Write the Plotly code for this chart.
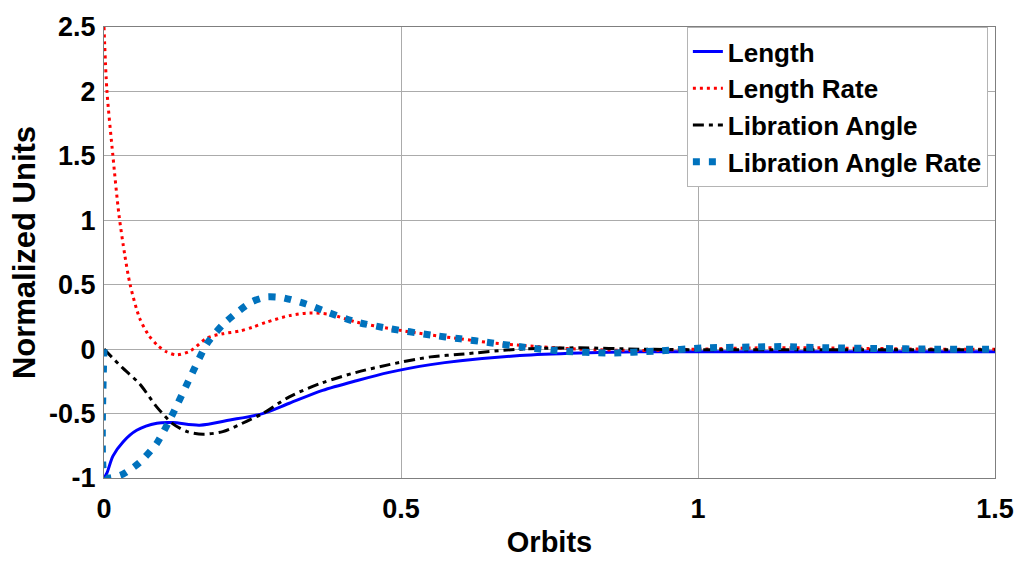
import plotly.graph_objects as go

# Orbit time samples and normalized state responses
len_x = [0, 0.005, 0.015, 0.032, 0.055, 0.089, 0.116, 0.161, 0.212, 0.267, 0.312,
         0.368, 0.425, 0.48, 0.55, 0.6, 0.7, 0.8, 0.9, 1.0, 1.25, 1.5]
len_y = [-1, -0.96, -0.83, -0.72, -0.63, -0.575, -0.57, -0.59, -0.55, -0.5, -0.42,
         -0.32, -0.245, -0.18, -0.12, -0.09, -0.05, -0.03, -0.02, -0.02, -0.02, -0.02]

rate_x = [0, 0.005, 0.015, 0.025, 0.035, 0.044, 0.06, 0.075, 0.09, 0.105, 0.122,
          0.145, 0.173, 0.2, 0.228, 0.25, 0.274, 0.312, 0.346, 0.38, 0.425, 0.48,
          0.55, 0.6, 0.65, 0.7, 0.8, 0.9, 1.0, 1.1, 1.2, 1.3, 1.4, 1.5]
rate_y = [2.5, 2.0, 1.5, 1.05, 0.73, 0.5, 0.24, 0.11, 0.03, -0.02, -0.045,
          -0.015, 0.085, 0.12, 0.14, 0.17, 0.21, 0.26, 0.28, 0.27, 0.21, 0.16,
          0.11, 0.08, 0.05, 0.03, 0.0, -0.01, 0.0, 0.01, 0.01, 0.005, 0.0, 0.0]

lib_x = [0, 0.03, 0.06, 0.089, 0.116, 0.14, 0.167, 0.2, 0.24, 0.267, 0.312, 0.368,
         0.425, 0.48, 0.55, 0.6, 0.7, 0.8, 0.9, 1.0, 1.25, 1.5]
lib_y = [0, -0.14, -0.27, -0.45, -0.58, -0.64, -0.66, -0.64, -0.56, -0.5, -0.37, -0.26,
         -0.18, -0.12, -0.06, -0.04, 0.0, 0.01, 0.0, -0.005, -0.005, -0.005]

librate_x = [0, 0.001, 0.01, 0.032, 0.06, 0.089, 0.116, 0.145, 0.173, 0.2, 0.228,
             0.25, 0.274, 0.3, 0.34, 0.38, 0.425, 0.48, 0.55, 0.6, 0.65, 0.716,
             0.77, 0.85, 0.93, 1.01, 1.09, 1.14, 1.22, 1.30, 1.40, 1.5]
librate_y = [0, -0.99, -1.0, -0.97, -0.88, -0.73, -0.5, -0.22, 0.04, 0.19, 0.3,
             0.37, 0.405, 0.4, 0.35, 0.28, 0.21, 0.16, 0.11, 0.08, 0.05, 0.01,
             -0.015, -0.03, -0.015, 0.01, 0.016, 0.02, 0.01, 0.005, 0.0, 0.0]

x_ticks = [0, 0.5, 1, 1.5]
x_tick_text = ["0", "0.5", "1", "1.5"]
y_ticks = [-1, -0.5, 0, 0.5, 1, 1.5, 2, 2.5]
y_tick_text = ["-1", "-0.5", "0", "0.5", "1", "1.5", "2", "2.5"]

FONT = "Liberation Sans, Arial, sans-serif"

fig = go.Figure()
fig.add_trace(go.Scatter(x=len_x, y=len_y, name="Length", mode="lines",
                         line=dict(color="#0000FF", width=3, shape="spline", smoothing=0.8)))
fig.add_trace(go.Scatter(x=rate_x, y=rate_y, name="Length Rate", mode="lines",
                         line=dict(color="#FF0000", width=3, dash="3px,4px",
                                   shape="spline", smoothing=0.8)))
fig.add_trace(go.Scatter(x=lib_x, y=lib_y, name="Libration Angle", mode="lines",
                         line=dict(color="#000000", width=3, dash="11px,5px,4px,5px",
                                   shape="spline", smoothing=0.8)))
fig.add_trace(go.Scatter(x=librate_x, y=librate_y, name="Libration Angle Rate", mode="lines",
                         line=dict(color="#0072BD", width=7, dash="7px,9px",
                                   shape="spline", smoothing=0.6)))

axis_common = dict(
    showgrid=True, gridcolor="#ababab", gridwidth=1,
    showline=True, linecolor="#7f7f7f", linewidth=1, mirror=True,
    zeroline=False, ticks="", tickfont=dict(family=FONT, size=27, color="#000000", weight="bold"),
)

fig.update_layout(
    width=1026, height=565,
    margin=dict(l=104, r=29, t=22, b=86),
    paper_bgcolor="white", plot_bgcolor="white",
    showlegend=True,
    legend=dict(x=0.992, y=1.0, xanchor="right", yanchor="top",
                bgcolor="white", bordercolor="#b4b4b4", borderwidth=1,
                font=dict(family=FONT, size=26, color="#000000", weight="bold"),
                tracegroupgap=0, itemwidth=30),
    xaxis=dict(range=[0, 1.5], tickvals=x_ticks, ticktext=x_tick_text,
               title=dict(text="Orbits", standoff=8,
                          font=dict(family=FONT, size=29, color="#000000", weight="bold")),
               ticklabelstandoff=7, **axis_common),
    yaxis=dict(range=[-1, 2.5], tickvals=y_ticks, ticktext=y_tick_text,
               title=dict(text="Normalized Units", standoff=4,
                          font=dict(family=FONT, size=31, color="#000000", weight="bold")),
               ticklabelstandoff=2, **axis_common),
)

fig.write_html("out.html")
